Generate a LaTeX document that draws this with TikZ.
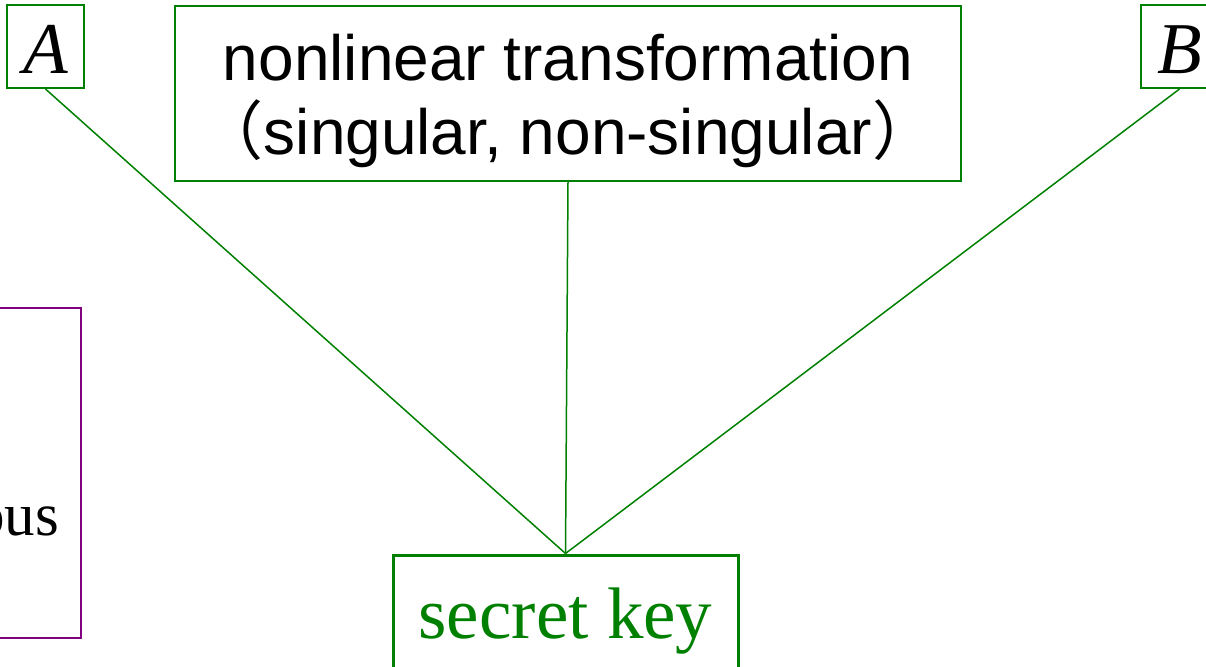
\documentclass[tikz,border=0pt]{standalone}
\usepackage{fontspec}
\setmainfont{Liberation Serif}
\newfontfamily\arialf{Liberation Sans}
\newfontfamily\cjkf{Noto Sans CJK SC}
\definecolor{dgreen}{RGB}{0,128,0}
\definecolor{dpurple}{RGB}{128,0,128}
\begin{document}
\begin{tikzpicture}[x=1pt,y=-1pt,
  gbox/.style={draw=dgreen,rectangle,inner sep=0pt},
  letterbox/.style={gbox,line width=2pt,minimum width=77pt,minimum height=83pt,
    text height=55pt,text depth=0pt,font=\fontsize{73}{80}\selectfont\itshape},
  link/.style={draw=dgreen,line width=1.5pt}]
\useasboundingbox (0,0) rectangle (1206,666);
\begin{scope}
\clip (0,0) rectangle (1206,666);
\node[letterbox] (A) at (45.5,46.5) {A};
\node[letterbox] (B) at (1179.5,46.5) {B};
\node[gbox,line width=1.5pt,minimum width=786pt,minimum height=175pt,align=center,
  font=\fontsize{64}{74}\selectfont\arialf] (nl) at (568,93.5)
  {\rule{0pt}{62pt}nonlinear transformation\\{\cjkf （}singular, non-singular{\cjkf ）}\rule[-14pt]{0pt}{14pt}};
\node[draw=dpurple,rectangle,line width=2.5pt,minimum width=281pt,minimum height=330pt,inner sep=0pt] (P) at (-59.5,473) {};
\node[anchor=base east,inner sep=0pt,font=\fontsize{61}{68}\selectfont] (Ptext) at (59,535) {ous};
\node[gbox,line width=3pt,minimum width=345pt,minimum height=132pt,
  text height=50pt,text depth=16pt,text=dgreen,font=\fontsize{73}{80}\selectfont] (key) at (565.5,621) {secret key};
\draw[link] (A.south) -- (key.north);
\draw[link] (nl.south) -- (key.north);
\draw[link] (B.south) -- (key.north);
\end{scope}
\end{tikzpicture}
\end{document}
